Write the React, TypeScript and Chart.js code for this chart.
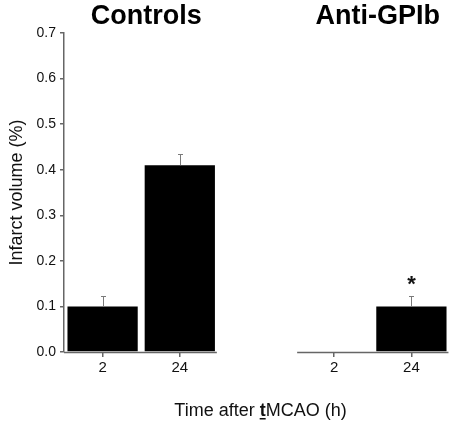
import React, { useEffect, useRef } from "react";
import { Chart, registerables } from "chart.js";

Chart.register(...registerables);

// ---- data ----
const categories = ["2", "24", "", "2", "24"];
const infarctVolume: (number | null)[] = [0.1, 0.41, null, 0, 0.1];
const errorUpper: (number | null)[] = [0.022, 0.024, null, 0, 0.022];
const significance = ["", "", "", "", "*"];
const groupTitles = ["Controls", "Anti-GPIb"];
const groupMembers = [
  [0, 1],
  [3, 4],
];
const yMin = 0;
const yMax = 0.7;
const yStep = 0.1;
const yTitle = "Infarct volume (%)";
const xTitleParts = [
  { text: "Time after ", bold: false, underline: false },
  { text: "t", bold: true, underline: true },
  { text: "MCAO (h)", bold: false, underline: false },
];

const FONT = '"Liberation Sans", Arial, Helvetica, sans-serif';
const AXIS = "#666";
const TEXT = "#111";

const decorPlugin = {
  id: "decor",
  afterDatasetsDraw(chart: any) {
    const ctx = chart.ctx as CanvasRenderingContext2D;
    const xs = chart.scales.x;
    const ys = chart.scales.y;
    const meta = chart.getDatasetMeta(0);
    const area = chart.chartArea;
    ctx.save();

    // error bars + significance markers
    infarctVolume.forEach((v, i) => {
      if (v == null) return;
      const e = errorUpper[i] ?? 0;
      const px = Math.round(meta.data[i].x) + 0.5;
      const y0 = ys.getPixelForValue(v);
      const y1 = Math.round(ys.getPixelForValue(v + e)) + 0.5;
      if (e > 0) {
        ctx.strokeStyle = "#7a7a7a";
        ctx.lineWidth = 1;
        ctx.beginPath();
        ctx.moveTo(px, y0);
        ctx.lineTo(px, y1);
        ctx.moveTo(px - 2.5, y1);
        ctx.lineTo(px + 2.5, y1);
        ctx.stroke();
      }
      if (significance[i]) {
        ctx.fillStyle = TEXT;
        ctx.font = `bold 22px ${FONT}`;
        ctx.textAlign = "center";
        ctx.textBaseline = "alphabetic";
        ctx.fillText(significance[i], px, y1 - 6);
      }
    });

    // x-axis line segments per group
    const half = (xs.getPixelForValue(1) - xs.getPixelForValue(0)) / 2;
    const yb = Math.round(area.bottom) + 0.5;
    ctx.strokeStyle = AXIS;
    ctx.lineWidth = 1.5;
    groupMembers.forEach((g, gi) => {
      const first = xs.getPixelForValue(g[0]);
      const last = xs.getPixelForValue(g[g.length - 1]);
      const left = gi === 0 ? area.left : first - half * 0.96;
      const right = last + half * 0.96;
      ctx.beginPath();
      ctx.moveTo(left, yb);
      ctx.lineTo(right, yb);
      ctx.stroke();
    });

    // group titles
    ctx.fillStyle = "#000";
    ctx.font = `bold 27px ${FONT}`;
    ctx.textAlign = "center";
    ctx.textBaseline = "alphabetic";
    groupMembers.forEach((g, gi) => {
      const c =
        (xs.getPixelForValue(g[0]) + xs.getPixelForValue(g[g.length - 1])) / 2;
      ctx.fillText(groupTitles[gi], c + 5, 24);
    });

    // y title
    ctx.save();
    ctx.translate(22, (area.top + area.bottom) / 2);
    ctx.rotate(-Math.PI / 2);
    ctx.font = `18px ${FONT}`;
    ctx.fillStyle = TEXT;
    ctx.textAlign = "center";
    ctx.textBaseline = "alphabetic";
    ctx.fillText(yTitle, 0, 0);
    ctx.restore();

    // x title with bold underlined part
    const fontFor = (b: boolean) => `${b ? "bold " : ""}18px ${FONT}`;
    let total = 0;
    const widths = xTitleParts.map((p) => {
      ctx.font = fontFor(p.bold);
      const w = ctx.measureText(p.text).width;
      total += w;
      return w;
    });
    let cx = 260.5 - total / 2;
    const base = 416;
    ctx.textAlign = "left";
    ctx.fillStyle = TEXT;
    xTitleParts.forEach((p, i) => {
      ctx.font = fontFor(p.bold);
      ctx.fillText(p.text, cx, base);
      if (p.underline) {
        ctx.fillRect(cx, base + 2, widths[i], 1.5);
      }
      cx += widths[i];
    });

    ctx.restore();
  },
};

export default function App() {
  const ref = useRef<HTMLCanvasElement | null>(null);

  useEffect(() => {
    document.body.style.margin = "0";
    if (!ref.current) return;
    const chart = new Chart(ref.current, {
      type: "bar",
      data: {
        labels: categories,
        datasets: [
          {
            data: infarctVolume as any,
            backgroundColor: "#000",
            borderWidth: 0,
            barPercentage: 0.91,
            categoryPercentage: 1,
          },
        ],
      },
      options: {
        animation: false,
        responsive: true,
        maintainAspectRatio: false,
        layout: { padding: { top: 33, right: 4, left: 0, bottom: 0 } },
        plugins: {
          legend: { display: false },
          tooltip: { enabled: false },
          title: { display: false },
        },
        scales: {
          x: {
            type: "category",
            offset: true,
            afterFit: (s: any) => {
              s.height = 73;
            },
            border: { display: false },
            grid: {
              offset: false,
              drawOnChartArea: false,
              drawTicks: true,
              tickLength: 5,
              lineWidth: 1.5,
              color: (c: any) =>
                categories[c.index] === "" ? "rgba(0,0,0,0)" : AXIS,
            },
            ticks: {
              color: TEXT,
              padding: 2,
              font: { family: FONT, size: 15 },
            },
          },
          y: {
            min: yMin,
            max: yMax,
            afterFit: (s: any) => {
              s.width = 64;
            },
            border: { display: true, color: AXIS, width: 1.5 },
            grid: {
              drawOnChartArea: false,
              drawTicks: true,
              tickLength: 4,
              lineWidth: 1.5,
              color: AXIS,
            },
            ticks: {
              stepSize: yStep,
              color: TEXT,
              padding: 4,
              font: { family: FONT, size: 14 },
              callback: (v: any) => Number(v).toFixed(1),
            },
          },
        },
      },
      plugins: [decorPlugin],
    });
    return () => chart.destroy();
  }, []);

  return (
    <div style={{ width: 454, height: 425, position: "relative" }}>
      <canvas ref={ref} />
    </div>
  );
}
